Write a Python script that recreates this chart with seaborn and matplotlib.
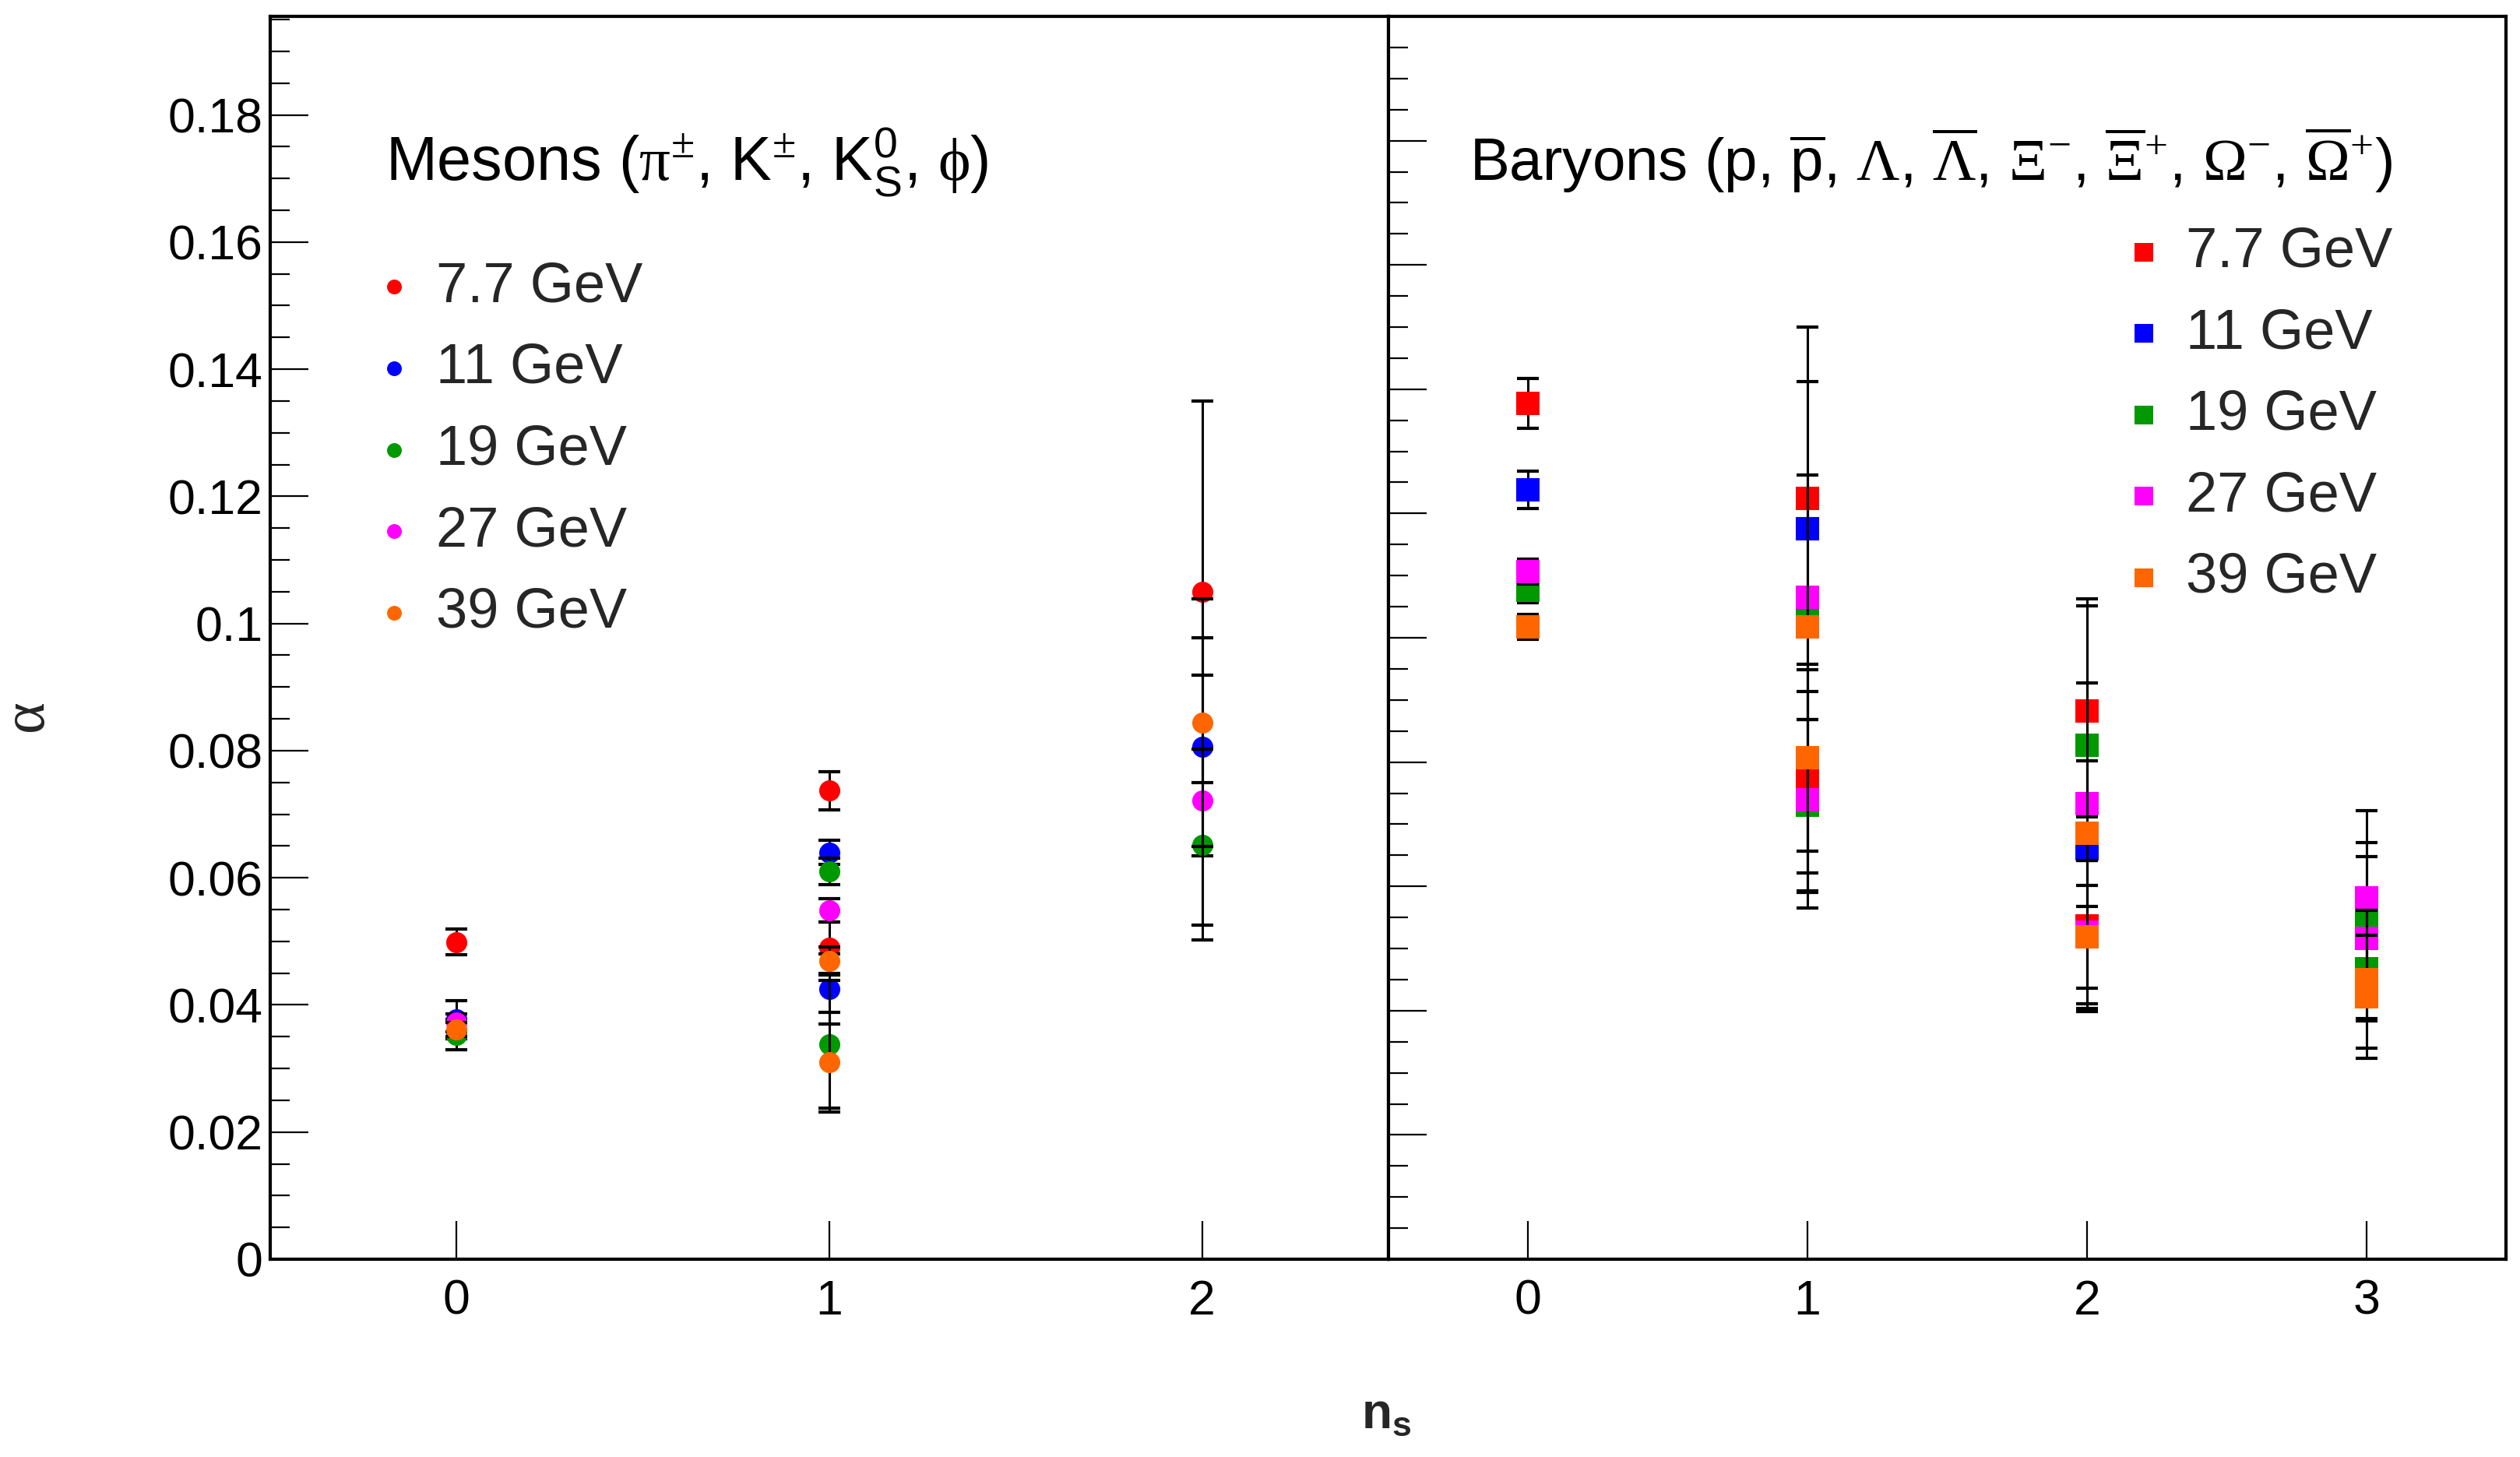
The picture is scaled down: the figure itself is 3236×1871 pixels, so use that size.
import pandas as pd
import matplotlib
matplotlib.use("Agg")
import matplotlib.pyplot as plt
import seaborn as sns

# Grundstil, danach Fonts setzen (set_theme ueberschreibt font.family)
sns.set_theme(style="white")
plt.rcParams['font.family'] = ['Liberation Sans', 'DejaVu Sans']
plt.rcParams['mathtext.fontset'] = 'custom'
plt.rcParams['mathtext.rm'] = 'Liberation Serif'
plt.rcParams['mathtext.sf'] = 'Liberation Sans'
plt.rcParams['mathtext.bf'] = 'Liberation Sans:bold'
plt.rcParams['mathtext.it'] = 'Liberation Sans:italic'

energies = ['7.7 GeV', '11 GeV', '19 GeV', '27 GeV', '39 GeV']
colors = ['#ff0000', '#0000ff', '#009900', '#ff00ff', '#ff6600']

# ---------------------------------------------------------
# Mesonen (pi, K, K0S, phi)
# ---------------------------------------------------------
meson_energy = ['7.7 GeV'] * 4 + ['11 GeV'] * 4 + ['19 GeV'] * 4 + ['27 GeV'] * 3 + ['39 GeV'] * 4
meson_ns = [0, 1, 1, 2,
            0, 1, 1, 2,
            0, 1, 1, 2,
            0, 1, 2,
            0, 1, 1, 2]
meson_alpha = [0.0499, 0.0737, 0.0490, 0.1050,
               0.0377, 0.0640, 0.0425, 0.0806,
               0.0353, 0.0610, 0.0338, 0.0652,
               0.0372, 0.0549, 0.0722,
               0.0361, 0.0469, 0.0310, 0.0844]
meson_err = [0.0020, 0.0030, 0.0040, 0.0300,
             0.0030, 0.0019, 0.0055, 0.0171,
             0.0024, 0.0021, 0.0100, 0.0150,
             0.0014, 0.0018, 0.0197,
             0.0011, 0.0022, 0.0078, 0.0195]

# ---------------------------------------------------------
# Baryonen (p, Lambda, Xi, Omega)
# ---------------------------------------------------------
baryon_energy = ['7.7 GeV'] * 5 + ['11 GeV'] * 3 + ['19 GeV'] * 6 + ['27 GeV'] * 7 + ['39 GeV'] * 7
baryon_ns = [0, 1, 1, 2, 2,
             0, 1, 2,
             0, 1, 1, 2, 3, 3,
             0, 1, 1, 2, 2, 3, 3,
             0, 1, 1, 2, 2, 3, 3]
baryon_alpha = [0.1377, 0.1224, 0.0771, 0.0882, 0.0536,
                0.1238, 0.1176, 0.0661,
                0.1076, 0.1045, 0.0730, 0.0827, 0.0550, 0.0467,
                0.1107, 0.1065, 0.0739, 0.0733, 0.0526, 0.0582, 0.0516,
                0.1018, 0.1017, 0.0807, 0.0685, 0.0519, 0.0450, 0.0422]
baryon_err = [0.0040, 0.0008, 0.0178, 0.0170, 0.0137,
              0.0030, 0.0016, 0.0019,
              0.0020, 0.0455, 0.0138, 0.0100, 0.0120, 0.0080,
              0.0020, 0.0197, 0.0174, 0.0330, 0.0115, 0.0140, 0.0132,
              0.0020, 0.0395, 0.0150, 0.0117, 0.0083, 0.0111, 0.0099]

mes = pd.DataFrame({'energy': meson_energy, 'ns': meson_ns, 'alpha': meson_alpha, 'err': meson_err})
bar = pd.DataFrame({'energy': baryon_energy, 'ns': baryon_ns, 'alpha': baryon_alpha, 'err': baryon_err})

W, H = 3237, 1871
fig = plt.figure(figsize=(W / 100, H / 100), dpi=100)
x0, xm, x1 = 347, 1783, 3218
ytop, ybot = 21, 1617
ax1 = fig.add_axes([x0 / W, 1 - ybot / H, (xm - x0) / W, (ybot - ytop) / H])
ax2 = fig.add_axes([xm / W, 1 - ybot / H, (x1 - xm) / W, (ybot - ytop) / H])


def draw_panel(ax, df, marker, size):
    handles = []
    for i, (lab, col) in enumerate(zip(energies, colors)):
        d = df[df['energy'] == lab]
        ax.errorbar(d['ns'], d['alpha'], yerr=d['err'], fmt='none', ecolor='black',
                    elinewidth=2.2, capsize=10, capthick=3, zorder=3 + 2 * i)
        sns.scatterplot(data=d, x='ns', y='alpha', color=col, marker=marker, s=size,
                        linewidth=0, ax=ax, zorder=4 + 2 * i, legend=False)
        handles.append(ax.collections[-1])
    ax.set_xlabel('')
    ax.set_ylabel('')
    return handles


h1 = draw_panel(ax1, mes, 'o', 380)
h2 = draw_panel(ax2, bar, 's', 470)

ax1.set_xlim(-0.5, 2.5)
ax1.set_ylim(0, 0.1955)
ax2.set_xlim(-0.5, 3.5)
ax2.set_ylim(0, 0.2)

for ax, nmax in [(ax1, 2), (ax2, 3)]:
    ax.set_xticks(range(0, nmax + 1))
    ax.yaxis.set_major_locator(plt.MultipleLocator(0.02))
    ax.yaxis.set_minor_locator(plt.MultipleLocator(0.005))
    ax.tick_params(axis='both', which='both', left=True, bottom=True, top=False, right=False)
    ax.tick_params(axis='both', which='major', direction='in', length=35, width=1.6,
                   color='black', labelsize=45, labelcolor='black')
    ax.tick_params(axis='y', which='minor', direction='in', length=18, width=1.6, color='black')
    ax.tick_params(axis='x', which='minor', bottom=False)
    ax.tick_params(axis='x', pad=18)
    ax.tick_params(axis='y', pad=7)
    for sp in ax.spines.values():
        sp.set_linewidth(3)
        sp.set_color('black')
    ax.grid(False)

ax1.yaxis.set_major_formatter(plt.FuncFormatter(lambda v, p: '0' if abs(v) < 1e-9 else f'{v:g}'))
ax2.tick_params(axis='y', labelleft=False)

# Ueberschriften in den Panels
ax1.text(0.103, 0.868, r"Mesons ($\mathrm{\pi}^{\pm}$, K$^{\pm}$, K$^{\mathsf{0}}_{\mathsf{S}}$, $\mathrm{\phi}$)",
         transform=ax1.transAxes, fontsize=57, va='baseline', ha='left', color='black')
ax2.text(0.0725, 0.868,
         r"Baryons (p, $\overline{\mathsf{p}}$, $\mathrm{\Lambda}$, $\overline{\mathrm{\Lambda}}$, "
         r"$\mathrm{\Xi}^{-}$, $\overline{\mathrm{\Xi}}^{+}$, $\mathrm{\Omega}^{-}$, $\overline{\mathrm{\Omega}}^{+}$)",
         transform=ax2.transAxes, fontsize=55, va='baseline', ha='left', color='black')

ax1.legend(h1, energies, loc='upper left', bbox_to_anchor=(0.0955, 0.803), frameon=False,
           fontsize=52, markerscale=0.7, handlelength=0.6, handletextpad=0.45,
           labelspacing=0.52, borderpad=0, borderaxespad=0)
ax2.legend(h2, energies, loc='upper left', bbox_to_anchor=(0.661, 0.831), frameon=False,
           fontsize=52, markerscale=0.83, handlelength=0.6, handletextpad=0.45,
           labelspacing=0.52, borderpad=0, borderaxespad=0)

# Achsentitel
fig.text(37 / W, 1 - 923 / H, r"$\mathrm{\alpha}$", fontsize=56, fontweight='bold',
         rotation=90, ha='center', va='center')
fig.text(1780 / W, 1 - 1817 / H, r"n$_{\mathbf{s}}$", fontsize=46, fontweight='bold',
         ha='center', va='center')

fig.savefig('out.png', dpi=100, facecolor='white')
